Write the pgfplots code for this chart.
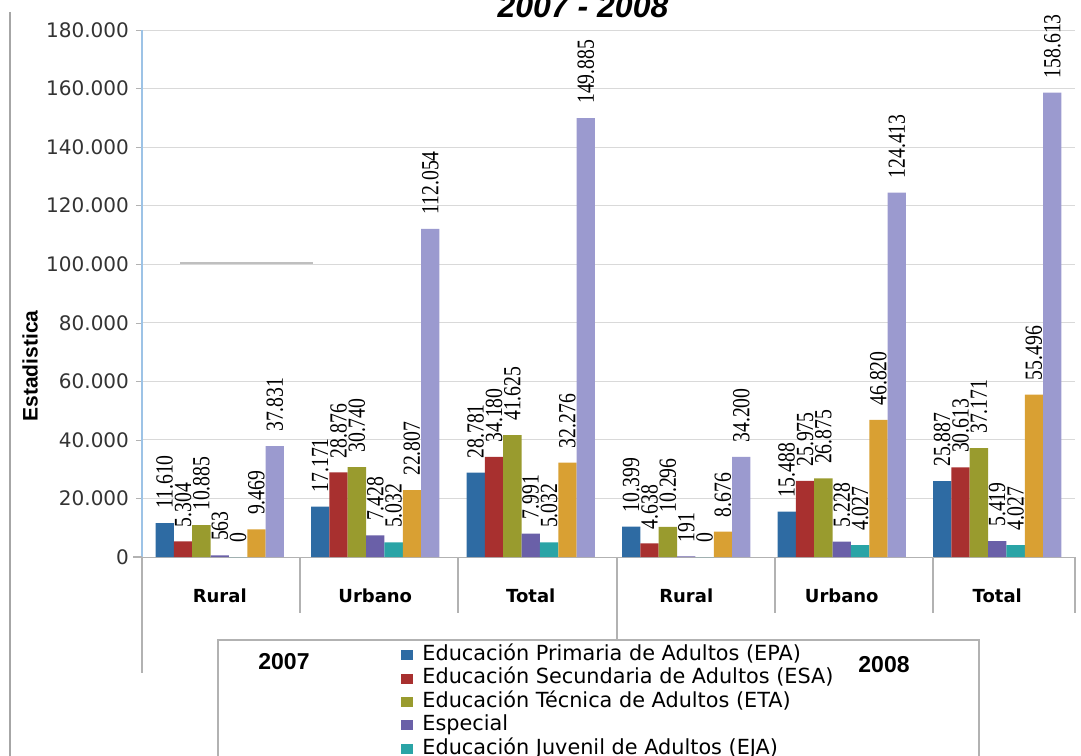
\documentclass[border=0pt]{standalone}
\usepackage{fontspec}
\setmainfont{DejaVu Sans}
\newfontfamily\arial{Liberation Sans}
\newfontfamily\valfont{Liberation Serif}[FakeStretch=0.8]
\usepackage{pgfplots}
\pgfplotsset{compat=1.18}

\definecolor{cEPA}{HTML}{2E6BA3}
\definecolor{cESA}{HTML}{A8302F}
\definecolor{cETA}{HTML}{999B2E}
\definecolor{cESP}{HTML}{6A60A8}
\definecolor{cEJA}{HTML}{2AA4A6}
\definecolor{cALF}{HTML}{D9A033}
\definecolor{cTOT}{HTML}{9B9ACF}
\definecolor{cAxis}{HTML}{9DC3E6}

\pgfkeys{/pgf/number format/.cd,1000 sep={.},fixed,assume math mode=true}

\begin{document}
\begin{tikzpicture}
\begin{axis}[
  scale only axis, width=466.5pt, height=263.5pt,
  ybar=0pt, bar width=0.118,
  xmin=-0.5, xmax=5.5, ymin=0, ymax=180000,
  axis lines*=left,
  x axis line style={draw=gray!60},
  y axis line style={draw=cAxis, line width=0.8pt},
  xtick={0,...,5},
  xticklabels={Rural,Urbano,Total,Rural,Urbano,Total},
  xtick style={draw=none},
  xticklabel style={font=\bfseries\fontsize{9}{10}\selectfont, anchor=center, yshift=-16.5pt},
  ytick={0,20000,...,180000},
  ytick style={draw=gray!60},
  tick align=outside, major tick length=3pt,
  scaled y ticks=false,
  yticklabel style={font=\fontsize{10}{11}\selectfont, text=black!80},
  ymajorgrids, grid style={draw=gray!30},
  nodes near coords,
  every node near coord/.append style={rotate=90, anchor=west, inner xsep=7pt, inner ysep=0pt,
    font=\valfont\fontsize{12.3}{12}\selectfont, text=black},
  legend style={draw=none, fill=none, inner sep=0pt, at={(0.2776,-0.1632)}, anchor=north west,
    font=\fontsize{10.4}{11}\selectfont,
    nodes={inner sep=0pt, text height=8.5pt, text depth=3.2pt}},
  legend cell align=left,
  legend image code/.code={\fill[#1] (0pt,-2.5pt) rectangle (6pt,2.5pt); \path (10.5pt,0pt);},
]
\addplot[fill=cEPA, draw=none] coordinates {(0,11610) (1,17171) (2,28781) (3,10399) (4,15488) (5,25887)};
\addplot[fill=cESA, draw=none] coordinates {(0,5304) (1,28876) (2,34180) (3,4638) (4,25975) (5,30613)};
\addplot[fill=cETA, draw=none] coordinates {(0,10885) (1,30740) (2,41625) (3,10296) (4,26875) (5,37171)};
\addplot[fill=cESP, draw=none] coordinates {(0,563) (1,7428) (2,7991) (3,191) (4,5228) (5,5419)};
\addplot[fill=cEJA, draw=none] coordinates {(0,0) (1,5032) (2,5032) (3,0) (4,4027) (5,4027)};
\addplot[fill=cALF, draw=none] coordinates {(0,9469) (1,22807) (2,32276) (3,8676) (4,46820) (5,55496)};
\addplot[fill=cTOT, draw=none] coordinates {(0,37831) (1,112054) (2,149885) (3,34200) (4,124413) (5,158613)};
\legend{Educación Primaria de Adultos (EPA),
        Educación Secundaria de Adultos (ESA),
        Educación Técnica de Adultos (ETA),
        Especial,
        Educación Juvenil de Adultos (EJA)}
\end{axis}
\begin{scope}[x=0.5pt,y=-0.5pt,shift={(-71pt,278.5pt)}]
  \draw[gray!60, line width=0.6pt]
    (142,557)--(142,673) (300,557)--(300,613) (458,557)--(458,613)
    (617,557)--(617,640) (775,557)--(775,613) (933,557)--(933,613)
    (1075,557)--(1075,613) (133,557)--(142,557);
  \draw[gray!60, line width=0.6pt] (218,770)--(218,640)--(979,640)--(979,770);
  \node[font=\arial\bfseries\fontsize{11.5}{12}\selectfont] at (284,662) {2007};
  \node[font=\arial\bfseries\fontsize{11.5}{12}\selectfont] at (884,665) {2008};
  \node[rotate=90, font=\arial\bfseries\fontsize{10.5}{11}\selectfont] at (30,366) {Estadistica};
  \node[anchor=base, font=\arial\bfseries\itshape\fontsize{16}{16}\selectfont] at (583,18) {2007 - 2008};
  \draw[gray!70, line width=1.2pt] (10,12)--(10,770);
  \draw[gray!50, line width=0.6pt] (180,263)--(313,263);
  \pgfresetboundingbox
  \path[use as bounding box] (0,0) rectangle (1081,755);
\end{scope}
\end{tikzpicture}
\end{document}
